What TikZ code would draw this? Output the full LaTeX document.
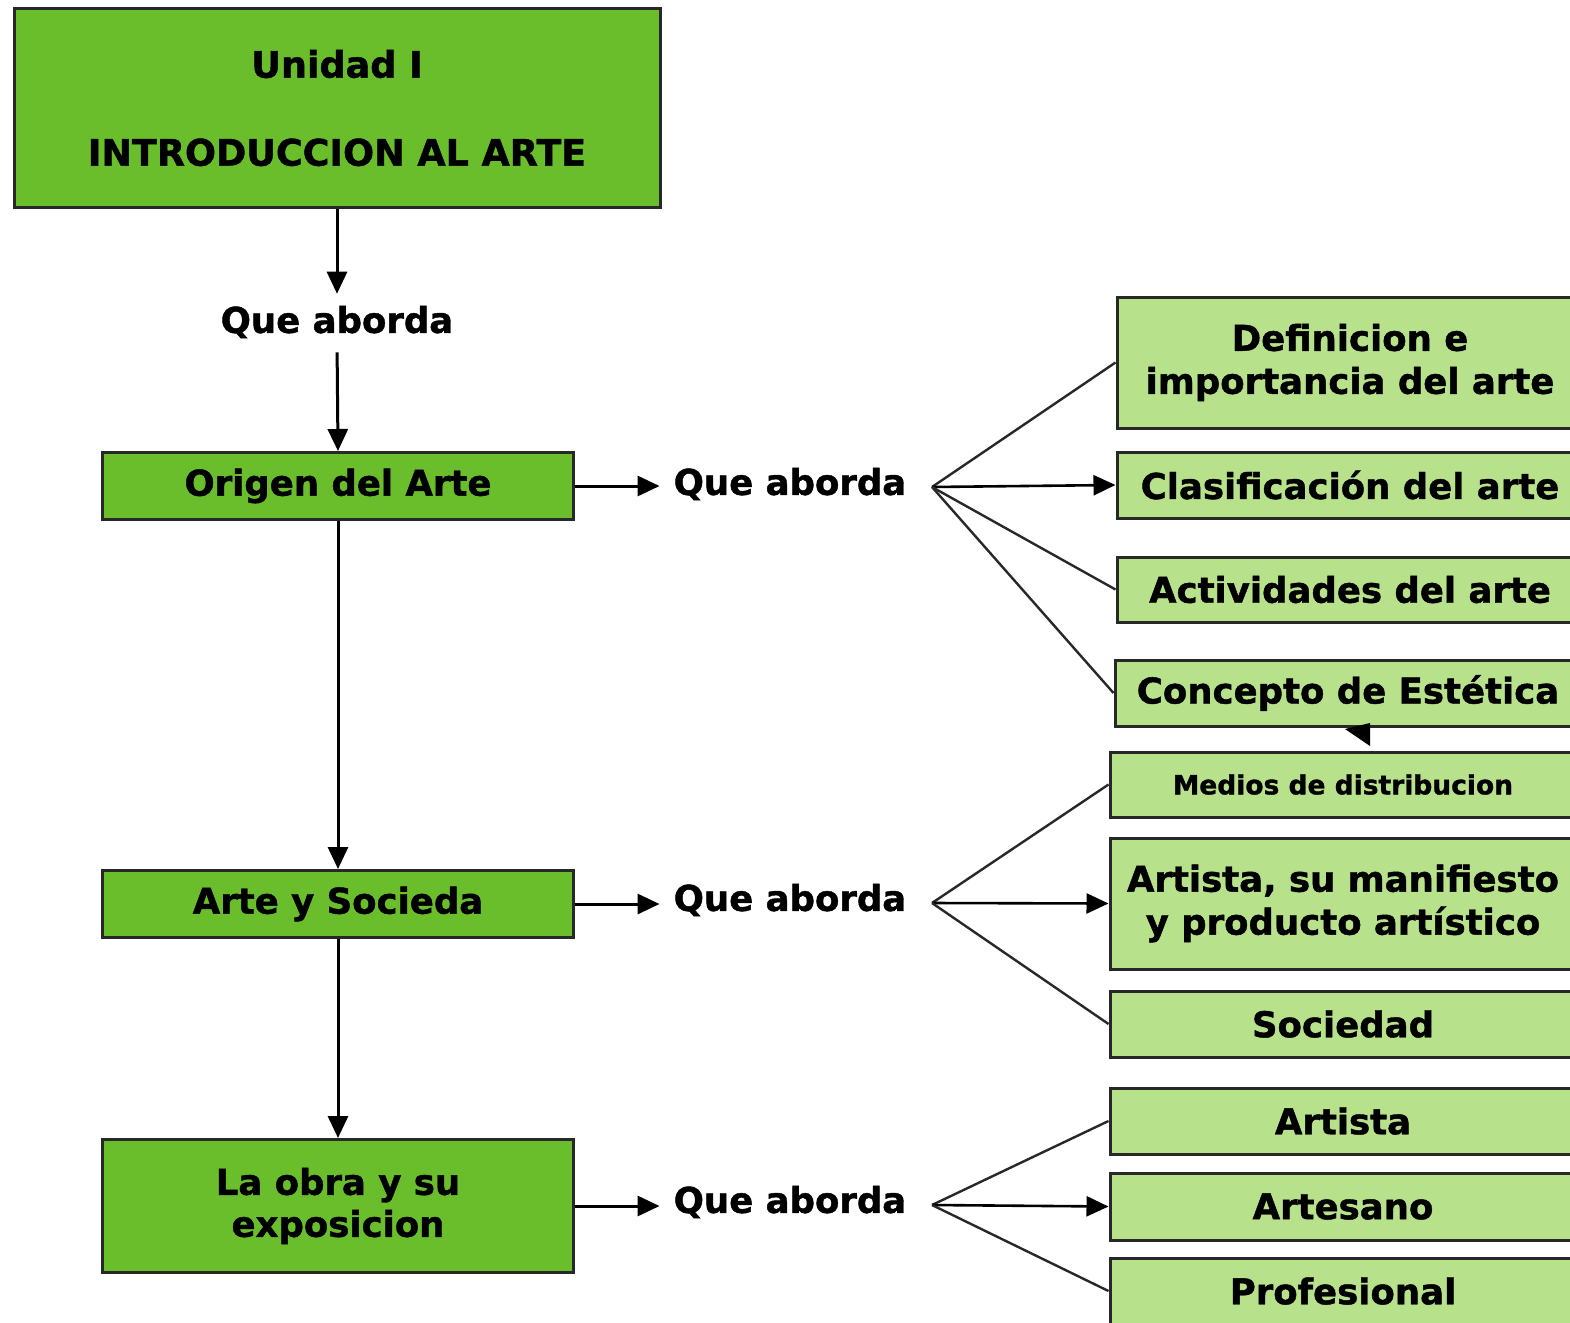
\documentclass[tikz,border=0pt]{standalone}
\usepackage{fontspec}
\setmainfont{DejaVu Sans}[BoldFont={DejaVu Sans Bold},BoldFeatures={FakeBold=1.2}]
\usetikzlibrary{arrows.meta}
\definecolor{dgreen}{RGB}{106,190,44}
\definecolor{lgreen}{RGB}{184,225,140}
\definecolor{edgec}{RGB}{40,40,40}
\begin{document}
\begin{tikzpicture}[x=1pt,y=-1pt,
 dbox/.style={draw=edgec,line width=3pt,fill=dgreen,font=\bfseries\fontsize{35.5}{42}\selectfont,align=center,inner sep=0pt},
 lbox/.style={draw=edgec,line width=3pt,fill=lgreen,font=\bfseries\fontsize{35.5}{43}\selectfont,align=center,inner sep=0pt,minimum width=466pt},
 lab/.style={font=\bfseries\fontsize{35.5}{40}\selectfont,inner sep=2pt},
 arr/.style={line width=3pt,draw=black,-{Triangle[length=22pt,width=20pt]}},
 fan/.style={line width=2.4pt,draw=edgec}]
\useasboundingbox (0,0) rectangle (1570,1322);
\clip (0,0) rectangle (1570,1322);
% left column
\node[dbox,minimum width=646pt,minimum height=198pt,font=\bfseries\fontsize{36.5}{88}\selectfont] (top) at (337,108) {Unidad I\\INTRODUCCION AL ARTE};
\node[lab] (q1) at (337,322) {Que aborda};
\node[dbox,minimum width=471pt,minimum height=67pt] (origen) at (338,486) {Origen del Arte};
\node[dbox,minimum width=471pt,minimum height=67pt] (arte) at (338,904) {Arte y Socieda};
\node[dbox,minimum width=471pt,minimum height=133pt] (obra) at (338,1206) {La obra y su\\exposicion};
% middle labels
\node[lab] (qa) at (790,484) {Que aborda};
\node[lab] (qb) at (790,900) {Que aborda};
\node[lab] (qc) at (790,1202) {Que aborda};
\coordinate (fa) at (932,487);
\coordinate (fb) at (932,903);
\coordinate (fc) at (932,1205);
% right boxes
\node[lbox,minimum height=131pt] (def) at (1350,362.5) {Definicion e\\importancia del arte};
\node[lbox,minimum height=66pt] (clas) at (1350,485) {Clasificación del arte};
\node[lbox,minimum height=65pt] (act) at (1350,589.5) {Actividades del arte};
\node[lbox,minimum height=66pt] (conc) at (1348,693) {Concepto de Estética};
\node[lbox,minimum height=65pt,font=\bfseries\fontsize{26.5}{30}\selectfont] (med) at (1343,784.5) {Medios de distribucion};
\node[lbox,minimum height=131pt] (man) at (1343,903.5) {Artista, su manifiesto\\y producto artístico};
\node[lbox,minimum height=66pt] (soc) at (1343,1024) {Sociedad};
\node[lbox,minimum height=66pt] (art) at (1343,1121) {Artista};
\node[lbox,minimum height=67pt] (artes) at (1343,1206.5) {Artesano};
\node[lbox,minimum height=66pt] (prof) at (1343,1291) {Profesional};
% vertical connectors
\draw[arr,shorten >=10pt] (top.south) -- (q1.north);
\draw[arr,shorten <=12pt] (q1.south) -- (origen.north);
\draw[arr] (origen.south) -- (arte.north);
\draw[arr] (arte.south) -- (obra.north);
% horizontal connectors
\draw[arr,shorten >=12pt] (origen.east) -- (qa.west |- origen.east);
\draw[arr,shorten >=12pt] (arte.east) -- (qb.west |- arte.east);
\draw[arr,shorten >=12pt] (obra.east) -- (qc.west |- obra.east);
% fans
\draw[fan] (fa) -- (def.west);
\draw[arr,line width=2.6pt] (fa) -- (clas.west);
\draw[fan] (fa) -- (act.west);
\draw[fan] (fa) -- (conc.west);
\draw[fan] (fb) -- (med.west);
\draw[arr,line width=2.6pt] (fb) -- (man.west);
\draw[fan] (fb) -- (soc.west);
\draw[fan] (fc) -- (art.west);
\draw[arr,line width=2.6pt] (fc) -- (artes.west);
\draw[fan] (fc) -- (prof.west);
% small arrowhead between Concepto and Medios
\fill[black] (1345,729) -- (1370,723) -- (1370,746) -- cycle;
\end{tikzpicture}
\end{document}
